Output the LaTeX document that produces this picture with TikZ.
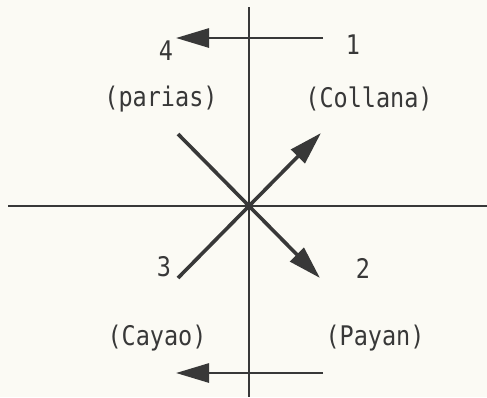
\documentclass[tikz,border=0pt]{standalone}
\usepackage{fontspec}
\setmonofont[FakeStretch=0.87]{DejaVu Sans Mono}
\usetikzlibrary{arrows.meta}
\definecolor{ink}{HTML}{383838}
\definecolor{paper}{HTML}{FBFAF4}
\tikzset{
  axis/.style={ink, line width=2.8pt},
  ray/.style={ink, line width=3.6pt},
  tip/.style={-{Triangle[length=33pt,width=19pt]}},
  lbl/.style={ink, font=\ttfamily\fontsize{27}{30}\selectfont, inner sep=0pt}
}

\begin{document}
\begin{tikzpicture}[x=1pt,y=-1pt]
\fill[paper] (0,0) rectangle (487,397);
\useasboundingbox (0,0) rectangle (487,397);
% axes
\coordinate (o) at (249,206);
\coordinate (top) at (249,7);
\coordinate (bot) at (249,397);
\coordinate (lft) at (8,206);
\coordinate (rgt) at (487,206);
\draw[axis] (top)--(bot);
\draw[axis] (lft)--(rgt);
% moieties
\coordinate (nw) at (178,134);
\coordinate (ne) at (321,133);
\coordinate (sw) at (178,278);
\coordinate (se) at (320,278);
\draw[ray] (nw)--(o);
\draw[ray] (sw)--(o);
\draw[ray,tip] (o)--(ne);
\draw[ray,tip] (o)--(se);
% rotation arrows
\coordinate (t1) at (323,38);
\coordinate (t4) at (176,38);
\coordinate (b1) at (323,373);
\coordinate (b4) at (176,373);
\draw[axis,tip] (t1)--(t4);
\draw[axis,tip] (b1)--(b4);
% labels
\node[lbl] (n1) at (353,45) {1};
\node[lbl] (n4) at (166,51) {4};
\node[lbl] (n3) at (164,267) {3};
\node[lbl] (n2) at (363,268) {2};
\node[lbl] (parias) at (161,99) {(parias)};
\node[lbl] (collana) at (369,99) {(Collana)};
\node[lbl] (cayao) at (157,338) {(Cayao)};
\node[lbl] (payan) at (375,338) {(Payan)};
\end{tikzpicture}
\end{document}
